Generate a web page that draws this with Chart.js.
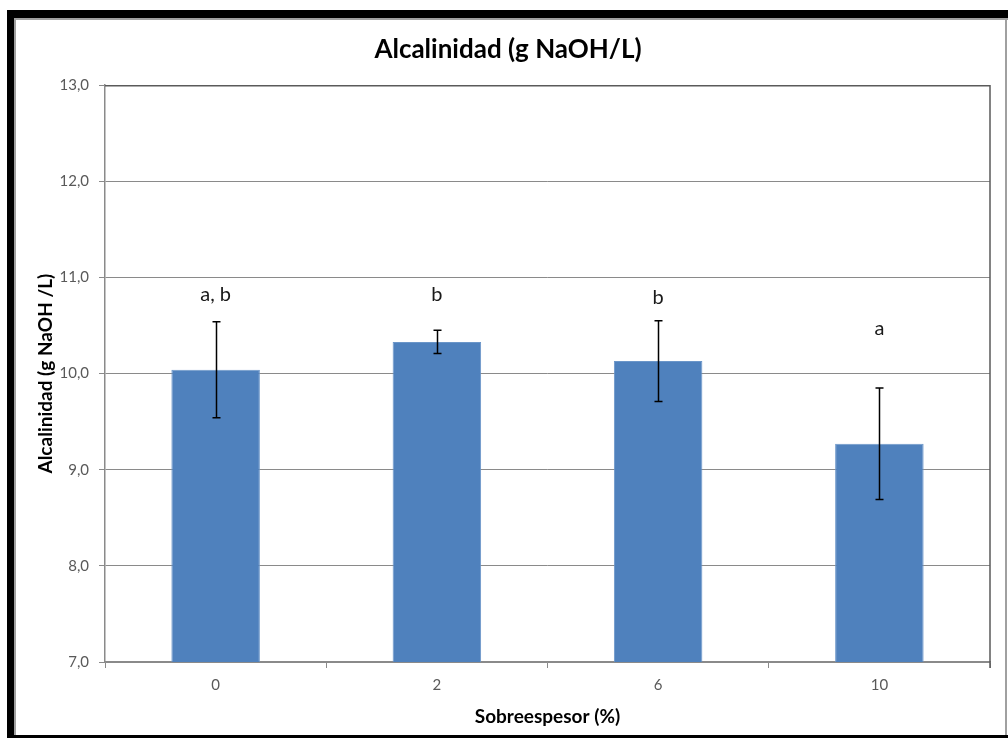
<!DOCTYPE html>
<html><head><meta charset="utf-8">
<script src="https://cdn.jsdelivr.net/npm/chart.js@4.4.0/dist/chart.umd.min.js"></script>
<style>html,body{margin:0;padding:0;background:#fff;}#wrap{width:1008px;height:738px;}</style>
</head><body><div id="wrap"><canvas id="c" width="1008" height="738"></canvas></div>
<script>
const categories = ['0', '2', '6', '10'];
const means = [10.04, 10.33, 10.13, 9.27];
const errors = [0.50, 0.12, 0.42, 0.58];
const sigLetters = ['a, b', 'b', 'b', 'a'];
const sigLetterY = [10.82, 10.82, 10.79, 10.47];
const yMin = 7, yMax = 13, yStep = 1;
const chartTitle = 'Alcalinidad (g NaOH/L)';
const yTitle = 'Alcalinidad (g NaOH /L)';
const xTitle = 'Sobreespesor (%)';

const FONT = "Lato, 'Open Sans', 'Liberation Sans', sans-serif";
const GRID = '#8a8a8a';

const framePlugin = {
  id: 'frame',
  beforeDraw(chart) {
    const ctx = chart.ctx;
    ctx.save();
    ctx.fillStyle = '#ffffff';
    ctx.fillRect(0, 0, chart.width, chart.height);
    ctx.fillStyle = '#000000';
    ctx.fillRect(7, 10, 1001, 8);
    ctx.fillRect(7, 10, 7, 728);
    ctx.fillRect(7, 735, 1001, 3);
    ctx.fillStyle = '#a0a0a0';
    ctx.fillRect(14, 18, 994, 2);
    ctx.fillRect(14, 18, 2, 717);
    ctx.fillRect(1005, 18, 2, 717);
    ctx.restore();
  },
  afterDraw(chart) {
    const a = chart.chartArea, ctx = chart.ctx;
    ctx.save();
    ctx.strokeStyle = '#5a5a5a';
    ctx.lineWidth = 1.5;
    ctx.beginPath();
    ctx.moveTo(a.left, a.top + 0.5);
    ctx.lineTo(a.right, a.top + 0.5);
    ctx.lineTo(a.right, a.bottom + 6);
    ctx.stroke();
    ctx.restore();
  }
};

const errorBarPlugin = {
  id: 'errorBars',
  afterDatasetsDraw(chart) {
    const ctx = chart.ctx;
    const meta = chart.getDatasetMeta(0);
    const y = chart.scales.y;
    ctx.save();
    ctx.strokeStyle = '#000000';
    ctx.lineWidth = 1.5;
    meta.data.forEach((bar, i) => {
      const x = Math.round(bar.x) + 0.5;
      const yt = y.getPixelForValue(means[i] + errors[i]);
      const yb = y.getPixelForValue(means[i] - errors[i]);
      ctx.beginPath();
      ctx.moveTo(x, yt); ctx.lineTo(x, yb);
      ctx.moveTo(x - 4, yt); ctx.lineTo(x + 4, yt);
      ctx.moveTo(x - 4, yb); ctx.lineTo(x + 4, yb);
      ctx.stroke();
    });
    ctx.fillStyle = '#1a1a1a';
    ctx.font = '20px ' + FONT;
    ctx.textAlign = 'center';
    ctx.textBaseline = 'middle';
    meta.data.forEach((bar, i) => {
      ctx.fillText(sigLetters[i], bar.x, y.getPixelForValue(sigLetterY[i]));
    });
    ctx.restore();
  }
};

new Chart(document.getElementById('c'), {
  type: 'bar',
  data: {
    labels: categories,
    datasets: [{
      data: means,
      backgroundColor: '#4f81bd',
      borderColor: '#6b96c9',
      borderWidth: 1,
      categoryPercentage: 1.0,
      barPercentage: 0.4
    }]
  },
  options: {
    responsive: false,
    animation: false,
    devicePixelRatio: 1,
    layout: { padding: { left: 26, right: 18, top: 0, bottom: 0 } },
    plugins: {
      legend: { display: false },
      tooltip: { enabled: false },
      title: {
        display: true,
        text: chartTitle,
        color: '#000000',
        font: { family: FONT, size: 26, weight: 'bold' },
        padding: { top: 34, bottom: 20 }
      }
    },
    scales: {
      y: {
        min: yMin, max: yMax,
        afterFit(scale) { scale.width = 79; },
        ticks: {
          stepSize: yStep,
          color: '#595959',
          padding: 10,
          font: { family: FONT, size: 15 },
          callback: v => v.toFixed(1).replace('.', ',')
        },
        grid: { color: GRID, lineWidth: 1, tickLength: 6, drawTicks: true },
        border: { color: GRID, width: 1.5 },
        title: {
          display: true,
          text: yTitle,
          color: '#000000',
          font: { family: FONT, size: 19, weight: 'bold' },
          padding: { top: 8, bottom: 0 }
        }
      },
      x: {
        afterFit(scale) { scale.height = 76; },
        ticks: {
          color: '#595959',
          padding: 8,
          font: { family: FONT, size: 15 }
        },
        grid: { display: true, drawOnChartArea: false, drawTicks: true, tickLength: 6, color: GRID, offset: true },
        border: { color: GRID, width: 1.5 },
        title: {
          display: true,
          text: xTitle,
          color: '#000000',
          font: { family: FONT, size: 19, weight: 'bold' },
          padding: { top: 0, bottom: 10 }
        }
      }
    }
  },
  plugins: [framePlugin, errorBarPlugin]
});
</script>
</body></html>
